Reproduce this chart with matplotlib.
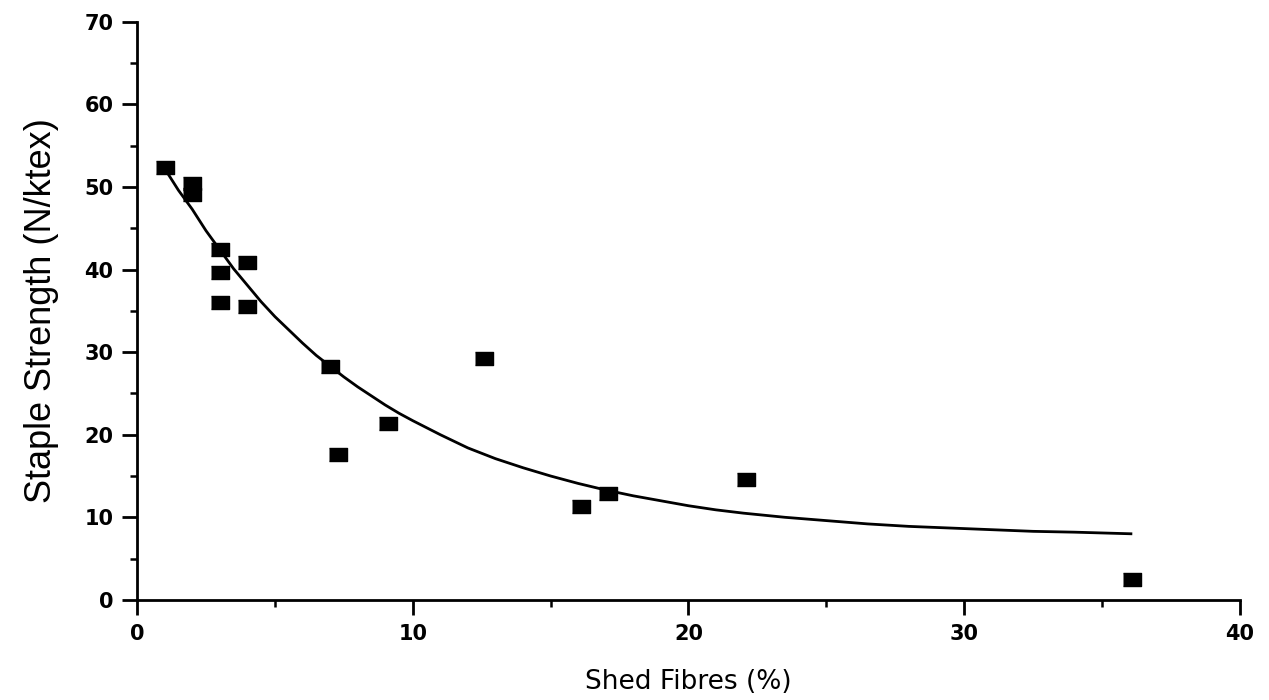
#!/usr/bin/env python3

import numpy as np
import matplotlib.pyplot as plt
from matplotlib.ticker import MultipleLocator

shed     = [ 1.0, 2.0, 2.0, 3.0, 3.0, 4.0, 3.0, 4.0, 7.0, 7.3, 9.1, 12.6, 16.1, 17.1, 22.1, 36.1 ]
strength = [ 52.4, 50.5, 49.2, 42.5, 39.7, 40.9, 36.1, 35.6, 28.3, 17.7, 21.4, 29.3, 11.4, 12.9, 14.6, 2.5 ]

# fitted curve, values
curve_x = [ 1.1, 1.5, 2.0, 2.5, 3.0, 3.5, 4.0, 4.5, 5.0, 5.5, 6.0, 6.5, 7.0, 7.5, 8.0, 8.5,
            9.0, 9.5, 10.0, 11.0, 12.0, 13.0, 14.0, 15.0, 16.0, 17.0, 18.0, 19.0, 20.0,
            21.0, 22.0, 23.5, 25.0, 26.5, 28.0, 29.5, 31.0, 32.5, 34.0, 36.1 ]
curve_y = [ 51.7, 49.6, 47.3, 44.7, 42.4, 40.1, 38.1, 36.1, 34.3, 32.7, 31.1, 29.6, 28.3, 27.0,
            25.8, 24.7, 23.6, 22.6, 21.7, 20.0, 18.4, 17.1, 16.0, 15.0, 14.1, 13.3, 12.6,
            12.0, 11.4, 10.9, 10.5, 10.0, 9.6, 9.2, 8.9, 8.7, 8.5, 8.3, 8.2, 8.0 ]

fig = plt.figure( figsize = ( 12.69, 7.0 ), dpi = 100 )
ax  = fig.add_axes( [ 0.108, 0.143, 0.869, 0.826 ] )

ax.plot( curve_x, curve_y, c = 'k', lw = 2.0, solid_joinstyle = 'round',
         solid_capstyle = 'butt' )

rect = [ ( -1.0, -0.72 ), ( 1.0, -0.72 ), ( 1.0, 0.72 ), ( -1.0, 0.72 ) ]
ax.plot( shed, strength, ls = 'none', marker = rect, ms = 13, c = 'k', mec = 'k' )

ax.set_xlim( 0, 40 )
ax.set_ylim( 0, 70 )
ax.xaxis.set_major_locator( MultipleLocator( 10 ) )
ax.xaxis.set_minor_locator( MultipleLocator( 5 ) )
ax.yaxis.set_major_locator( MultipleLocator( 10 ) )
ax.yaxis.set_minor_locator( MultipleLocator( 5 ) )

for s in [ 'top', 'right' ]:
    ax.spines[s].set_visible( False )
for s in [ 'left', 'bottom' ]:
    ax.spines[s].set_linewidth( 2.0 )

ax.tick_params( which = 'major', direction = 'out', length = 11, width = 2.0,
                labelsize = 15, pad = 6 )
ax.tick_params( which = 'minor', direction = 'out', length = 5, width = 1.8 )
for lab in ax.get_xticklabels() + ax.get_yticklabels():
    lab.set_fontweight( 'bold' )
    lab.set_family( 'DejaVu Sans' )

ax.set_xlabel( 'Shed Fibres (%)', fontsize = 19, family = 'DejaVu Sans', labelpad = 18 )
ax.set_ylabel( 'Staple Strength (N/ktex)', fontsize = 26,
               family = [ 'DejaVu Sans Condensed', 'Liberation Sans' ], labelpad = 18 )

plt.savefig( 'out.png', dpi = 100 )
plt.close()
